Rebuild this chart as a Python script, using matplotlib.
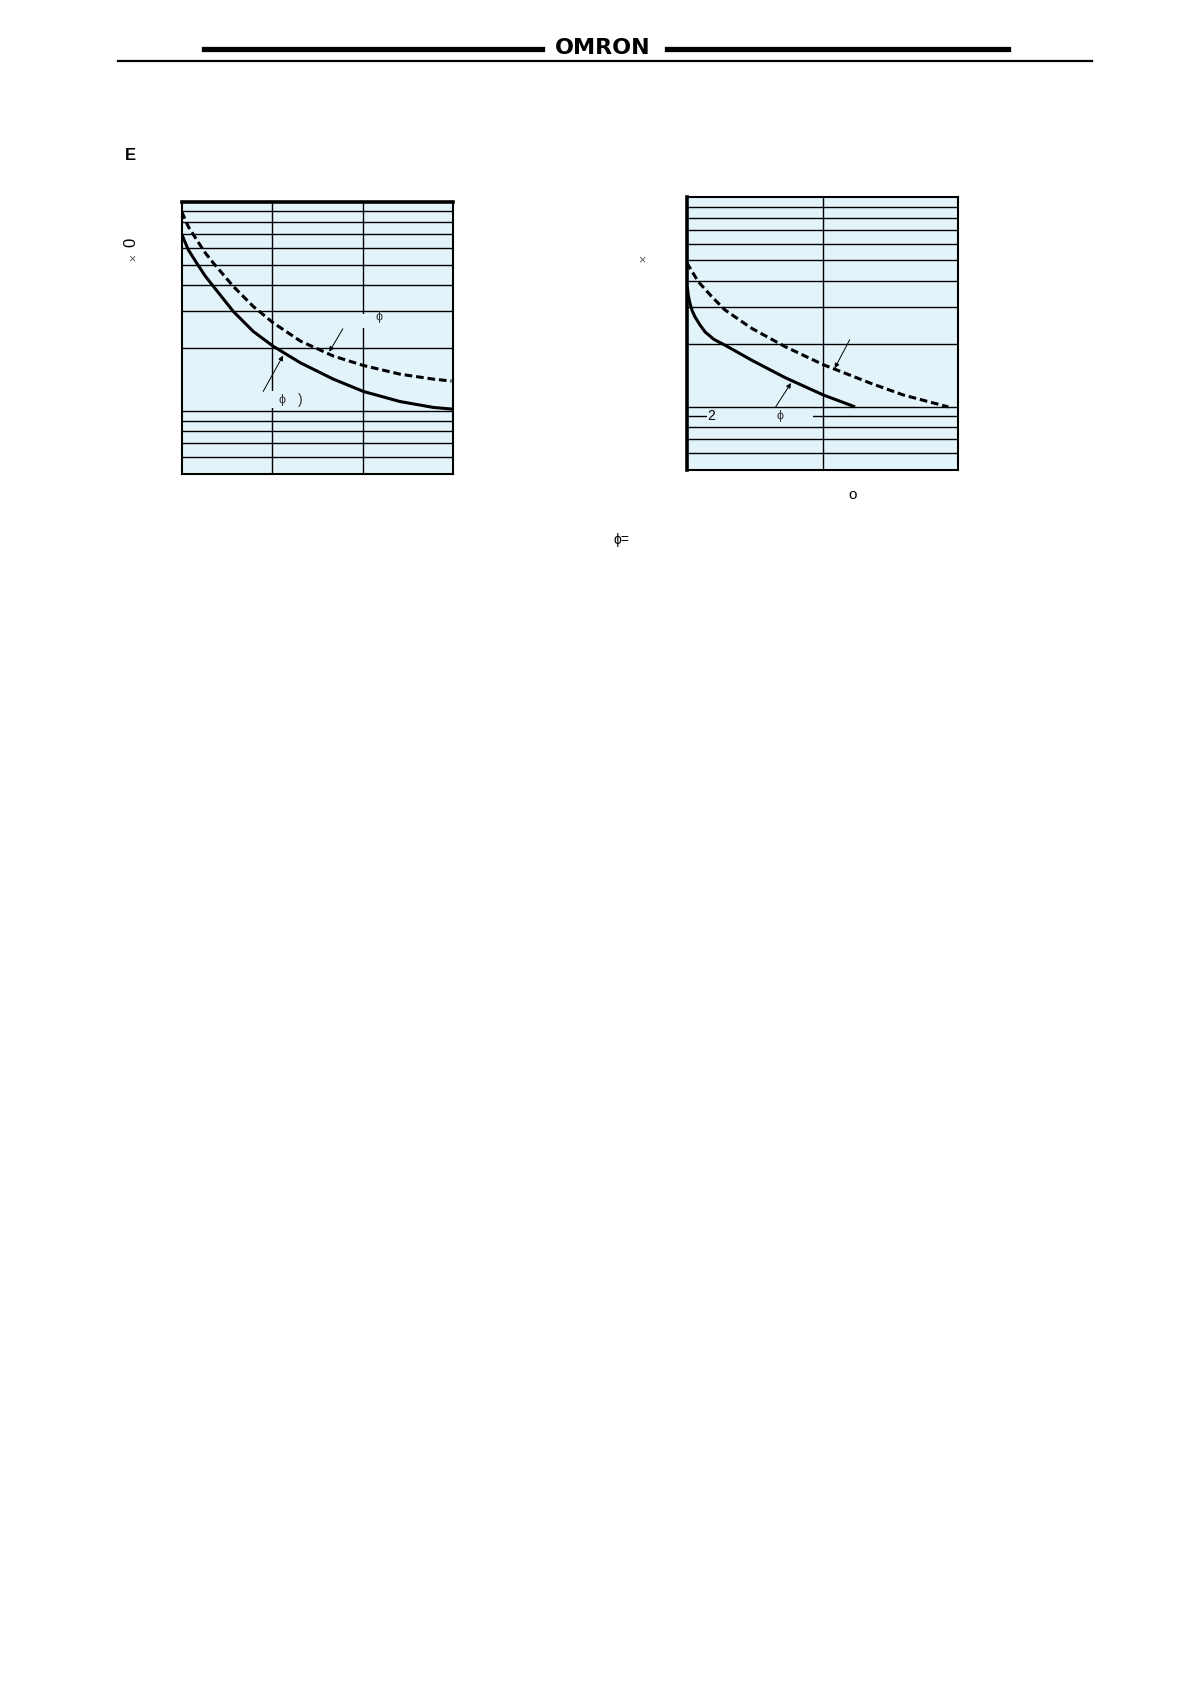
#!/usr/bin/env python3

import matplotlib.pyplot as plt
from matplotlib.patches import Rectangle

plt.rcParams['font.family'] = ['Liberation Sans', 'DejaVu Sans']
plt.rcParams['lines.scale_dashes'] = False

BG = '#e2f4fa'

# left chart curves (x in column units, y on log scale)
left_solid_x = [0.0, 0.073, 0.166, 0.257, 0.35, 0.57, 0.79, 1.01, 1.31, 1.675, 2.007, 2.41, 2.78, 3.0]
left_solid_y = [7.0, 5.89, 5.09, 4.43, 3.94, 2.99, 2.40, 2.04, 1.70, 1.42, 1.24, 1.11, 1.04, 1.02]
left_dash_x = [0.0, 0.073, 0.166, 0.257, 0.35, 0.57, 0.79, 1.01, 1.31, 1.675, 2.007, 2.41, 2.78, 2.98]
left_dash_y = [8.96, 7.6, 6.57, 5.72, 5.09, 3.94, 3.16, 2.64, 2.16, 1.83, 1.65, 1.50, 1.42, 1.39]

# right chart curves
right_solid_x = [0.004, 0.012, 0.024, 0.04, 0.061, 0.098, 0.135, 0.2, 0.282, 0.479, 0.724, 1.006, 1.24]
right_solid_y = [3.75, 3.4, 3.12, 2.88, 2.69, 2.46, 2.28, 2.1, 1.97, 1.67, 1.38, 1.14, 1.0]
right_dash_x = [0.0, 0.085, 0.184, 0.282, 0.479, 0.724, 1.006, 1.35, 1.595, 1.926]
right_dash_y = [4.88, 3.96, 3.36, 2.9, 2.37, 1.94, 1.59, 1.30, 1.14, 1.0]

y_grid = [0.6, 0.7, 0.8, 0.9, 1, 2, 3, 4, 5, 6, 7, 8, 9]
left_x_grid = [1, 2]
right_x_grid = [1]


def setup(ax, xmax, xgrid):
    ax.set_facecolor(BG)
    ax.set_yscale('log')
    ax.set_xlim(0, xmax)
    ax.set_ylim(0.5, 10)
    ax.set_xticks([])
    ax.set_yticks([])
    ax.minorticks_off()
    for v in y_grid:
        ax.axhline(v, color='black', lw=1.0, zorder=1)
    for v in xgrid:
        ax.axvline(v, color='black', lw=1.0, zorder=1)
    for s in ax.spines.values():
        s.set_linewidth(1.5)


def curves(ax, sx, sy, dx, dy):
    ax.plot(sx, sy, color='black', lw=2.2, zorder=4, solid_capstyle='butt', solid_joinstyle='round')
    ax.plot(dx, dy, color='black', lw=2.2, zorder=4, dashes=(5.5, 2.8))


def arrow(ax, x0, y0, x1, y1):
    ax.annotate('', xy=(x1, y1), xytext=(x0, y0), zorder=5,
                arrowprops=dict(arrowstyle='-|>', color='black', lw=0.7,
                                mutation_scale=7, shrinkA=0, shrinkB=0))


fig = plt.figure(figsize=(11.9, 16.82), dpi=100)

# header
fig.add_artist(plt.Line2D([204 / 1190, 542 / 1190], [1 - 49 / 1682] * 2, color='black', lw=3.8))
fig.add_artist(plt.Line2D([667 / 1190, 1008 / 1190], [1 - 49 / 1682] * 2, color='black', lw=3.8))
fig.add_artist(plt.Line2D([118 / 1190, 1092 / 1190], [1 - 61 / 1682] * 2, color='black', lw=1.6))
fig.text(603 / 1190, 1 - 48 / 1682, 'OMRON', ha='center', va='center', fontsize=16,
         fontweight='bold', family='DejaVu Sans')

# left chart
ax1 = fig.add_axes([181.7 / 1190, 1 - 474 / 1682, 271.6 / 1190, 272.3 / 1682])
setup(ax1, 3, left_x_grid)
ax1.spines['top'].set_linewidth(2.6)
ax1.add_patch(Rectangle((1.9, 2.5), 0.5, 0.42, facecolor=BG, edgecolor='none', zorder=2))
ax1.add_patch(Rectangle((0.95, 1.03), 0.5, 0.22, facecolor=BG, edgecolor='none', zorder=2))
curves(ax1, left_solid_x, left_solid_y, left_dash_x, left_dash_y)
arrow(ax1, 1.78, 2.47, 1.63, 1.92)
arrow(ax1, 0.90, 1.24, 1.12, 1.84)
ax1.text(2.18, 2.82, 'ϕ', fontsize=9, color='#333333', ha='center', va='center', zorder=6)
ax1.text(1.11, 1.13, 'ϕ', fontsize=9, color='#333333', ha='center', va='center', zorder=6)
ax1.text(1.31, 1.13, ')', fontsize=10, color='#333333', ha='center', va='center', zorder=6)

# right chart
ax2 = fig.add_axes([686.7 / 1190, 1 - 470 / 1682, 271.6 / 1190, 272.7 / 1682])
setup(ax2, 2, right_x_grid)
ax2.spines['left'].set_linewidth(2.6)
ax2.add_patch(Rectangle((0.147, 0.85), 0.785, 0.09, facecolor=BG, edgecolor='none', zorder=2))
curves(ax2, right_solid_x, right_solid_y, right_dash_x, right_dash_y)
arrow(ax2, 1.20, 2.09, 1.09, 1.53)
arrow(ax2, 0.655, 1.0, 0.768, 1.30)
ax2.text(0.18, 0.9, '2', fontsize=10, color='black', ha='center', va='center', zorder=6)
ax2.text(0.685, 0.9, 'ϕ', fontsize=9, color='#333333', ha='center', va='center', zorder=6)

# loose text fragments
fig.text(130 / 1190, 1 - 155 / 1682, 'E', fontsize=12, fontweight='bold', ha='center', va='center')
fig.text(131 / 1190, 1 - 242 / 1682, '0', fontsize=12, rotation=90, ha='center', va='center')
fig.text(131.5 / 1190, 1 - 259 / 1682, '×', fontsize=9, color='#555555', ha='center', va='center')
fig.text(642 / 1190, 1 - 260 / 1682, '×', fontsize=9, color='#555555', ha='center', va='center')
fig.text(853 / 1190, 1 - 495 / 1682, 'o', fontsize=11, ha='center', va='center')
fig.text(621 / 1190, 1 - 540 / 1682, 'ϕ=', fontsize=10, ha='center', va='center')

fig.savefig('out.png', dpi=100)
